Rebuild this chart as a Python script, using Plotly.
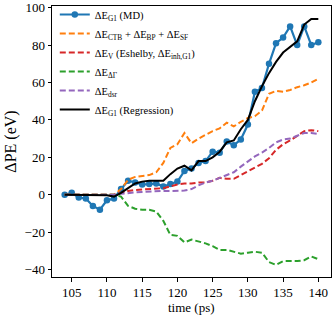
import plotly.graph_objects as go

time = list(range(104, 141))

e_md = [0, 1, -1.5, -2, -6, -8, -3, -2, 3, 7.5,
        6.5, 5.5, 5.7, 6, 4.4, 5.7, 7, 12.7, 14, 17,
        18, 23, 22.5, 28.5, 26.5, 29.5, 37.5, 55, 57, 70,
        81, 84, 90, 80, 90, 80, 81.5]

e_ctb = [0, 0, 0, 0, 0, 0, 0, 0, 3, 8, 9.5, 10, 10.5, 12, 17, 25, 27, 33, 27.5, 30,
         32, 34, 35.5, 38.5, 36.5, 39, 41, 42, 45, 54, 55.5, 55, 56, 57.5, 58.5, 60, 62]

e_v = [0, 0, 0, 0, 0, 0, 0, 0, 1, 2, 2.5, 2.7, 3, 3, 3.5, 4.5, 5.5, 6, 6, 6.5,
       6.5, 7.5, 9, 8.5, 8.5, 10.5, 12.5, 14.5, 16.5, 19.5, 24, 27, 29, 31.5, 34, 34.5, 34]

e_dg = [0, 0, 0, 0, 0, 0, 0, 0, -1, -6, -7.5, -8, -8, -9, -14, -21.5, -22, -25.5, -24, -25,
        -26, -27.5, -29.5, -29.5, -30.5, -31.5, -31, -30.5, -31, -36, -37.5, -35.5, -35.5, -35.5, -35, -33, -34.5]

e_dsr = [0, 0, 0, 0, 0, 0, 0, 0, 0.5, 1, 1.2, 1.5, 1.8, 2, 2, 2, 2, 2.2, 3, 5,
         6.5, 7.5, 9, 10.5, 12, 15, 18, 20.5, 22.5, 25, 28, 29.5, 30, 31.5, 33, 33, 32.5]

e_reg = [0, 0, 0, 0, 0, 0, -0.3, -1, 1, 3.5, 6, 7, 7.5, 7.5, 7.5, 11, 14, 15.5, 13, 18,
         18, 20, 23, 28, 29, 35, 40, 50, 58, 65, 71, 76, 79, 82, 91, 94, 94]

x_ticks = [105, 110, 115, 120, 125, 130, 135, 140]
y_ticks = [-40, -20, 0, 20, 40, 60, 80, 100]

x_title = "time (ps)"
y_title = "ΔPE (eV)"

names = [
    "ΔE<sub>G1</sub> (MD)",
    "ΔE<sub>CTB</sub> + ΔE<sub>BP</sub> + ΔE<sub>SF</sub>",
    "ΔE<sub>V</sub> (Eshelby, ΔE<sub>inh,G1</sub>)",
    "ΔE<sub>ΔΓ</sub>",
    "ΔE<sub>dsr</sub>",
    "ΔE<sub>G1</sub> (Regression)",
]

fig = go.Figure()
fig.add_trace(go.Scatter(x=time, y=e_md, mode="lines+markers", name=names[0],
                         line=dict(color="#1f77b4", width=2.2),
                         marker=dict(color="#1f77b4", size=6.5)))
dash = "6px,3px"
fig.add_trace(go.Scatter(x=time, y=e_ctb, mode="lines", name=names[1],
                         line=dict(color="#ff7f0e", width=2, dash=dash)))
fig.add_trace(go.Scatter(x=time, y=e_v, mode="lines", name=names[2],
                         line=dict(color="#d62728", width=2, dash=dash)))
fig.add_trace(go.Scatter(x=time, y=e_dg, mode="lines", name=names[3],
                         line=dict(color="#2ca02c", width=2, dash=dash)))
fig.add_trace(go.Scatter(x=time, y=e_dsr, mode="lines", name=names[4],
                         line=dict(color="#9467bd", width=2, dash=dash)))
fig.add_trace(go.Scatter(x=time, y=e_reg, mode="lines", name=names[5],
                         line=dict(color="black", width=2)))

font = "'Liberation Serif', 'DejaVu Serif', serif"
fig.update_layout(
    width=332, height=315,
    margin=dict(l=52, r=1, t=5, b=38),
    paper_bgcolor="white", plot_bgcolor="white",
    font=dict(family=font, size=13, color="black"),
    legend=dict(x=0.01, y=1.02, xanchor="left", yanchor="top",
                bgcolor="rgba(0,0,0,0)", font=dict(family=font, size=10.5),
                itemwidth=30, tracegroupgap=0),
    xaxis=dict(range=[102.2, 141.8], tickvals=x_ticks, showgrid=False, zeroline=False,
               showline=True, linecolor="black", linewidth=1, mirror=True,
               ticks="outside", ticklen=3.5, tickcolor="black", automargin=False),
    yaxis=dict(range=[-44, 100.9], tickvals=y_ticks, showgrid=False, zeroline=False,
               showline=True, linecolor="black", linewidth=1, mirror=True,
               ticks="outside", ticklen=3.5, tickcolor="black", automargin=False,
               ticklabeloverflow="allow",
               title=dict(text=y_title, standoff=3)),
    annotations=[dict(text=x_title, xref="paper", yref="paper", x=0.5, y=-0.113,
                      xanchor="center", yanchor="middle", showarrow=False,
                      font=dict(family=font, size=13))],
)

fig.write_html("out.html", config={"displayModeBar": False},
               post_script="document.body.style.margin='0';")
